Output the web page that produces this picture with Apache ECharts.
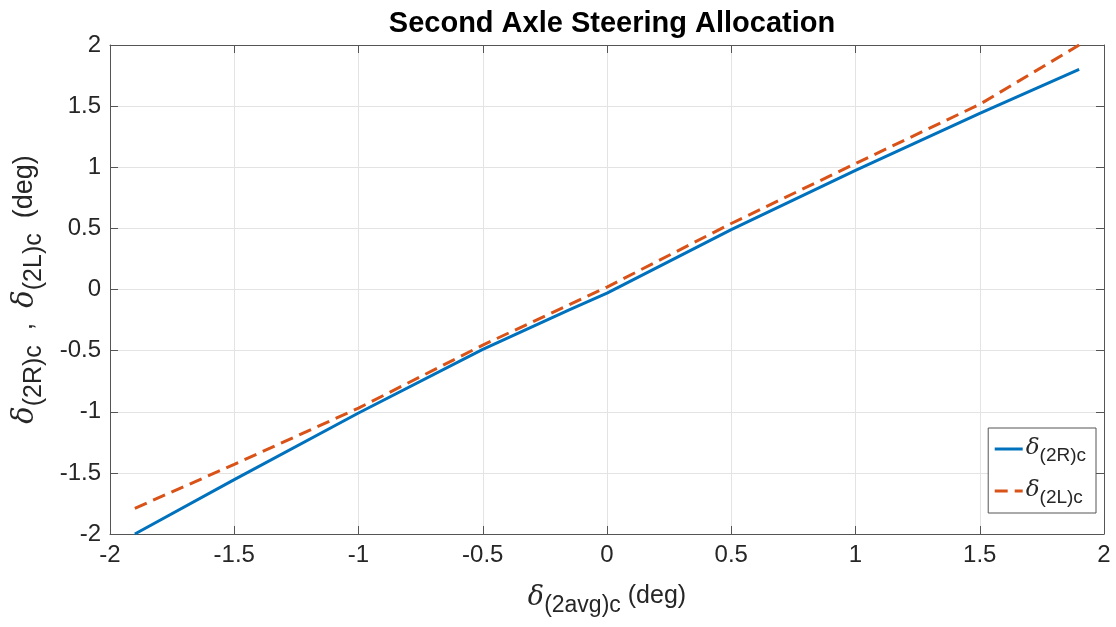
<!DOCTYPE html>
<html>
<head>
<meta charset="utf-8">
<script src="https://cdn.jsdelivr.net/npm/echarts@6/dist/echarts.min.js"></script>
<style>
  html, body { margin: 0; padding: 0; background: #fff; }
  #chart { width: 1116px; height: 627px; }
</style>
</head>
<body>
<div id="chart"></div>
<script>
// 数据
var rightX = [-1.9, -1.5, -1, -0.5, -0.15, 0, 0.5, 1, 1.5, 1.9];
var rightY = [-2.0, -1.555, -1.01, -0.49, -0.165, -0.03, 0.49, 0.975, 1.44, 1.8];
var leftX = [-1.9, -1.5, -1, -0.5, 0, 0.5, 1, 1.5, 1.9];
var leftY = [-1.79, -1.43, -0.97, -0.455, 0.02, 0.54, 1.03, 1.515, 2.0];

var axisMin = -2;
var axisMax = 2;
var tickStep = 0.5;

function pairs(xs, ys) {
    var out = [];
    for (var i = 0; i < xs.length; i++) {
        out.push([xs[i], ys[i]]);
    }
    return out;
}

var sansFont = 'Liberation Sans, Arial, sans-serif';
var axisColor = '#555';
var textColor = '#262626';

// 下标样式
function makeRich(dSize, sSize, nSize, drop) {
    return {
        d: { fontFamily: 'DejaVu Serif', fontStyle: 'italic', fontSize: dSize, lineHeight: dSize + 2, verticalAlign: 'top', color: textColor },
        s: { fontFamily: sansFont, fontSize: sSize, lineHeight: sSize, padding: [drop, 0, 0, 0], color: textColor },
        n: { fontFamily: sansFont, fontSize: nSize, lineHeight: dSize + 2, verticalAlign: 'top', color: textColor }
    };
}

var legendText = {
    R: '{d|δ}{s|(2R)c}',
    L: '{d|δ}{s|(2L)c}'
};

function baseAxis(pos, show) {
    return {
        type: 'value',
        position: pos,
        min: axisMin,
        max: axisMax,
        interval: tickStep,
        axisLine: { show: true, onZero: false, lineStyle: { color: axisColor, width: 1 } },
        axisTick: { show: true, inside: true, length: 8, lineStyle: { color: axisColor } },
        axisLabel: {
            show: show,
            color: textColor,
            fontFamily: sansFont,
            fontSize: 24,
            margin: 9
        },
        splitLine: { show: show, lineStyle: { color: '#e3e3e3', width: 1 } }
    };
}

var xMain = baseAxis('bottom', true);
xMain.name = '{d|δ}{s|(2avg)c}{n| (deg)}';
xMain.nameLocation = 'middle';
xMain.nameGap = 50;
xMain.nameTextStyle = { rich: makeRich(27, 23, 25, 15) };

var yMain = baseAxis('left', true);
yMain.name = '{d|δ}{s|(2R)c}{n|  ,  }{d|δ}{s|(2L)c}{n|  (deg)}';
yMain.nameLocation = 'middle';
yMain.nameGap = 68;
yMain.nameRotate = 90;
yMain.nameTextStyle = { rich: makeRich(29, 25, 27, 15) };

var xTop = baseAxis('top', false);
var yRight = baseAxis('right', false);

var myChart = echarts.init(document.getElementById('chart'), null, { renderer: 'canvas' });

var option = {
    backgroundColor: '#fff',
    animation: false,
    title: {
        text: 'Second Axle Steering Allocation',
        left: 607,
        top: 4,
        textAlign: 'center',
        textStyle: {
            fontFamily: sansFont,
            fontWeight: 'bold',
            fontSize: 29,
            color: '#000'
        }
    },
    grid: {
        left: 110,
        right: 12,
        top: 45,
        bottom: 93,
        outerBoundsMode: 'none'
    },
    legend: {
        orient: 'vertical',
        right: 20,
        top: 428,
        data: ['R', 'L'],
        formatter: function (name) { return legendText[name]; },
        itemWidth: 28,
        itemHeight: 14,
        itemGap: 10,
        padding: [5, 10, 6, 5],
        borderColor: '#555',
        borderWidth: 1,
        backgroundColor: '#fff',
        itemStyle: { opacity: 0 },
        lineStyle: { width: 3 },
        textStyle: { rich: makeRich(23, 19, 19, 13), padding: [0, 0, 0, -2] }
    },
    xAxis: [xMain, xTop],
    yAxis: [yMain, yRight],
    series: [
        {
            name: 'R',
            type: 'line',
            data: pairs(rightX, rightY),
            symbol: 'none',
            lineStyle: { color: '#0072BD', width: 3 },
            itemStyle: { color: '#0072BD' }
        },
        {
            name: 'L',
            type: 'line',
            data: pairs(leftX, leftY),
            symbol: 'none',
            lineStyle: { color: '#D95319', width: 3, type: [13, 7] },
            itemStyle: { color: '#D95319' }
        }
    ]
};

myChart.setOption(option);
</script>
</body>
</html>
